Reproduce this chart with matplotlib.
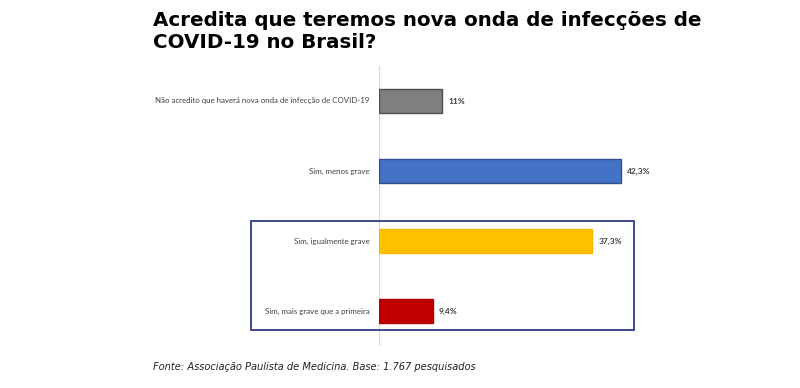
import matplotlib

matplotlib.use("Agg")

from matplotlib import pyplot as plt
from matplotlib.patches import Rectangle

# Data
categories = [
    "Não acredito que haverá nova onda de infecção de COVID-19",
    "Sim, menos grave",
    "Sim, igualmente grave",
    "Sim, mais grave que a primeira",
]
values = [11.0, 42.3, 37.3, 9.4]
value_labels = ["11%", "42,3%", "37,3%", "9,4%"]
colors = ["#7F7F7F", "#4472C4", "#FFC000", "#C00000"]
edges = ["#505050", "#2F528F", "#F5B800", "#B00000"]

title = "Acredita que teremos nova onda de infecções de\nCOVID-19 no Brasil?"
source = "Fonte: Associação Paulista de Medicina. Base: 1.767 pesquisados"

W, H = 800, 388
fig = plt.figure(figsize=(W / 100, H / 100), dpi=100)
fig.patch.set_facecolor("white")

# axes placed in pixel terms
ax_l, ax_r, ax_t, ax_b = 379, 700, 66, 346
ax = fig.add_axes([ax_l / W, 1 - ax_b / H, (ax_r - ax_l) / W, (ax_b - ax_t) / H])
ax.set_xlim(0, (ax_r - ax_l) / 5.72)
ax.set_ylim(3.5, -0.5)

ypos = list(range(len(categories)))
ax.barh(ypos, values, height=0.35, color=colors, edgecolor=edges, linewidth=1.0, zorder=3)

for y, v, lab in zip(ypos, values, value_labels):
    ax.text(v + 1.1, y, lab, va="center", ha="left", fontsize=6.0,
            family="Lato", fontweight="bold", color="#404040")

for y, cat in zip(ypos, categories):
    ax.text(-1.6, y, cat, va="center", ha="right", fontsize=5.7,
            family="Lato", color="#404040")

ax.axvline(0, color="#D9D9D9", linewidth=1.6, zorder=2)
for s in ax.spines.values():
    s.set_visible(False)
ax.set_xticks([])
ax.set_yticks([])
ax.patch.set_alpha(0)

# highlight box
bx0, bx1, by0, by1 = 251, 634, 221, 330
fig.patches.append(
    Rectangle((bx0 / W, 1 - by1 / H), (bx1 - bx0) / W, (by1 - by0) / H,
              transform=fig.transFigure, fill=False, edgecolor="#2E3A87",
              linewidth=1.3, zorder=5)
)

fig.text(153 / W, 1 - 11 / H, title, ha="left", va="top", fontsize=14.3,
         fontweight="bold", family="DejaVu Sans", color="black", linespacing=1.17)

fig.text(153 / W, 1 - 367 / H, source, ha="left", va="center", fontsize=7.1,
         style="italic", family="DejaVu Sans", color="#222222")

fig.savefig("out.png", dpi=100)
